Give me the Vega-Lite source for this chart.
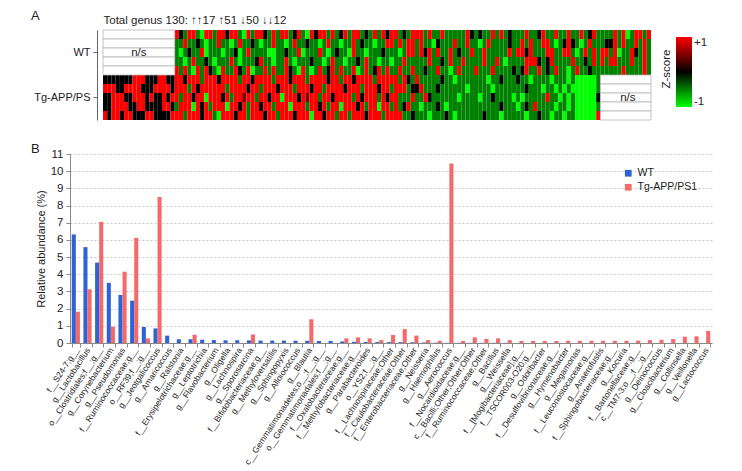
{
"$schema":"https://vega.github.io/schema/vega-lite/v6.json",
"padding":{"left":31,"top":10,"right":5,"bottom":0},
"bounds":"flush",
"spacing":34,
"config":{"view":{"stroke":null},"font":"Liberation Sans, Arial, sans-serif","axis":{"labelColor":"#222","titleColor":"#222"}},
"vconcat":[
{
"width":581,"height":90,
"title":{"text":"A","anchor":"start","frame":"group","fontSize":13,"fontWeight":"normal","dx":-39,"dy":9,"offset":0,"color":"#222"},
"encoding":{
"y":{"field":"r","type":"ordinal","sort":["W1","W2","W3","W4","W5","T1","T2","T3","T4","T5"],"scale":{"paddingInner":0,"paddingOuter":0},"axis":{"values":["W3","T3"],"labelExpr":"datum.value == 'W3' ? 'WT' : 'Tg-APP/PS'","title":null,"offset":-27,"tickSize":4,"labelPadding":3,"labelFontSize":11,"domainColor":"#666","tickColor":"#666","grid":false}},
"x":{"field":"c","type":"ordinal","scale":{"paddingInner":0,"paddingOuter":0,"range":[33,581]},"axis":{"orient":"top","labels":false,"ticks":false,"domain":false,"grid":false,"title":"Total genus 130: ↑↑17 ↑51 ↓50 ↓↓12","titleAnchor":"start","titleFontSize":11.5,"titleFontWeight":"normal","titlePadding":5}}
},
"layer":[
{"data":{"values":[
{"c":18,"r":"W1","z":2},{"c":19,"r":"W1","z":0},{"c":20,"r":"W1","z":-1},{"c":21,"r":"W1","z":2},{"c":22,"r":"W1","z":2},{"c":23,"r":"W1","z":-1},{"c":24,"r":"W1","z":-2},{"c":25,"r":"W1","z":2},{"c":26,"r":"W1","z":2},{"c":27,"r":"W1","z":-1},{"c":28,"r":"W1","z":2},{"c":29,"r":"W1","z":2},{"c":30,"r":"W1","z":0},{"c":31,"r":"W1","z":2},{"c":32,"r":"W1","z":2},{"c":33,"r":"W1","z":-1},{"c":34,"r":"W1","z":-2},{"c":35,"r":"W1","z":2},{"c":36,"r":"W1","z":-1},{"c":37,"r":"W1","z":2},{"c":38,"r":"W1","z":2},{"c":39,"r":"W1","z":0},{"c":40,"r":"W1","z":-1},{"c":41,"r":"W1","z":2},{"c":42,"r":"W1","z":-1},{"c":43,"r":"W1","z":2},{"c":44,"r":"W1","z":2},{"c":45,"r":"W1","z":-1},{"c":46,"r":"W1","z":0},{"c":47,"r":"W1","z":2},{"c":48,"r":"W1","z":-1},{"c":49,"r":"W1","z":-2},{"c":50,"r":"W1","z":2},{"c":51,"r":"W1","z":0},{"c":52,"r":"W1","z":2},{"c":53,"r":"W1","z":2},{"c":54,"r":"W1","z":-1},{"c":55,"r":"W1","z":2},{"c":56,"r":"W1","z":-1},{"c":57,"r":"W1","z":0},{"c":58,"r":"W1","z":2},{"c":59,"r":"W1","z":-1},{"c":60,"r":"W1","z":2},{"c":61,"r":"W1","z":2},{"c":62,"r":"W1","z":-1},{"c":63,"r":"W1","z":0},{"c":64,"r":"W1","z":-1},{"c":65,"r":"W1","z":2},{"c":66,"r":"W1","z":-1},{"c":67,"r":"W1","z":2},{"c":68,"r":"W1","z":0},
{"c":69,"r":"W1","z":2},{"c":70,"r":"W1","z":2},{"c":71,"r":"W1","z":-1},{"c":72,"r":"W1","z":0},{"c":73,"r":"W1","z":-1},{"c":74,"r":"W1","z":2},{"c":75,"r":"W1","z":2},{"c":76,"r":"W1","z":2},{"c":77,"r":"W1","z":-1},{"c":78,"r":"W1","z":2},{"c":79,"r":"W1","z":-1},{"c":80,"r":"W1","z":-1},{"c":81,"r":"W1","z":2},{"c":82,"r":"W1","z":-1},{"c":83,"r":"W1","z":-1},{"c":84,"r":"W1","z":-1},{"c":85,"r":"W1","z":-1},{"c":86,"r":"W1","z":-1},{"c":87,"r":"W1","z":2},{"c":88,"r":"W1","z":0},{"c":89,"r":"W1","z":-1},{"c":90,"r":"W1","z":0},{"c":91,"r":"W1","z":-1},{"c":92,"r":"W1","z":-1},{"c":93,"r":"W1","z":2},{"c":94,"r":"W1","z":-1},{"c":95,"r":"W1","z":2},{"c":96,"r":"W1","z":-1},{"c":97,"r":"W1","z":0},{"c":98,"r":"W1","z":-1},{"c":99,"r":"W1","z":-1},{"c":100,"r":"W1","z":-1},{"c":101,"r":"W1","z":2},{"c":102,"r":"W1","z":-1},{"c":103,"r":"W1","z":-1},{"c":104,"r":"W1","z":0},{"c":105,"r":"W1","z":2},{"c":106,"r":"W1","z":-1},{"c":107,"r":"W1","z":-1},{"c":108,"r":"W1","z":2},{"c":109,"r":"W1","z":-1},{"c":110,"r":"W1","z":-1},{"c":111,"r":"W1","z":2},{"c":112,"r":"W1","z":-1},{"c":113,"r":"W1","z":-1},{"c":114,"r":"W1","z":2},{"c":115,"r":"W1","z":-1},{"c":116,"r":"W1","z":0},{"c":117,"r":"W1","z":2},{"c":118,"r":"W1","z":-1},
{"c":119,"r":"W1","z":-1},{"c":120,"r":"W1","z":-1},{"c":121,"r":"W1","z":-1},{"c":122,"r":"W1","z":2},{"c":123,"r":"W1","z":-1},{"c":124,"r":"W1","z":2},{"c":125,"r":"W1","z":-2},{"c":126,"r":"W1","z":-1},{"c":127,"r":"W1","z":2},{"c":128,"r":"W1","z":2},{"c":129,"r":"W1","z":-1},{"c":130,"r":"W1","z":2},
{"c":18,"r":"W2","z":-1},{"c":19,"r":"W2","z":-1},{"c":20,"r":"W2","z":2},{"c":21,"r":"W2","z":-1},{"c":22,"r":"W2","z":-1},{"c":23,"r":"W2","z":0},{"c":24,"r":"W2","z":-1},{"c":25,"r":"W2","z":-2},{"c":26,"r":"W2","z":-1},{"c":27,"r":"W2","z":-1},{"c":28,"r":"W2","z":2},{"c":29,"r":"W2","z":-1},{"c":30,"r":"W2","z":-1},{"c":31,"r":"W2","z":-2},{"c":32,"r":"W2","z":-1},{"c":33,"r":"W2","z":2},{"c":34,"r":"W2","z":-1},{"c":35,"r":"W2","z":-1},{"c":36,"r":"W2","z":0},{"c":37,"r":"W2","z":-1},{"c":38,"r":"W2","z":-2},{"c":39,"r":"W2","z":-1},{"c":40,"r":"W2","z":-1},{"c":41,"r":"W2","z":2},{"c":42,"r":"W2","z":-1},{"c":43,"r":"W2","z":-1},{"c":44,"r":"W2","z":-2},{"c":45,"r":"W2","z":-1},{"c":46,"r":"W2","z":2},{"c":47,"r":"W2","z":-1},{"c":48,"r":"W2","z":-1},{"c":49,"r":"W2","z":0},{"c":50,"r":"W2","z":-1},{"c":51,"r":"W2","z":-1},{"c":52,"r":"W2","z":-2},{"c":53,"r":"W2","z":-1},{"c":54,"r":"W2","z":2},{"c":55,"r":"W2","z":-1},{"c":56,"r":"W2","z":-1},{"c":57,"r":"W2","z":-2},{"c":58,"r":"W2","z":-1},{"c":59,"r":"W2","z":-1},{"c":60,"r":"W2","z":2},{"c":61,"r":"W2","z":-1},{"c":62,"r":"W2","z":0},{"c":63,"r":"W2","z":-1},{"c":64,"r":"W2","z":-1},{"c":65,"r":"W2","z":-2},{"c":66,"r":"W2","z":-1},{"c":67,"r":"W2","z":-1},{"c":68,"r":"W2","z":2},
{"c":69,"r":"W2","z":2},{"c":70,"r":"W2","z":-1},{"c":71,"r":"W2","z":2},{"c":72,"r":"W2","z":-1},{"c":73,"r":"W2","z":2},{"c":74,"r":"W2","z":2},{"c":75,"r":"W2","z":-1},{"c":76,"r":"W2","z":2},{"c":77,"r":"W2","z":-1},{"c":78,"r":"W2","z":-1},{"c":79,"r":"W2","z":-2},{"c":80,"r":"W2","z":0},{"c":81,"r":"W2","z":-1},{"c":82,"r":"W2","z":-1},{"c":83,"r":"W2","z":-1},{"c":84,"r":"W2","z":2},{"c":85,"r":"W2","z":-1},{"c":86,"r":"W2","z":-1},{"c":87,"r":"W2","z":2},{"c":88,"r":"W2","z":-1},{"c":89,"r":"W2","z":-1},{"c":90,"r":"W2","z":-2},{"c":91,"r":"W2","z":-1},{"c":92,"r":"W2","z":2},{"c":93,"r":"W2","z":-1},{"c":94,"r":"W2","z":-1},{"c":95,"r":"W2","z":-1},{"c":96,"r":"W2","z":-1},{"c":97,"r":"W2","z":0},{"c":98,"r":"W2","z":-1},{"c":99,"r":"W2","z":-1},{"c":100,"r":"W2","z":2},{"c":101,"r":"W2","z":-1},{"c":102,"r":"W2","z":2},{"c":103,"r":"W2","z":-1},{"c":104,"r":"W2","z":-1},{"c":105,"r":"W2","z":2},{"c":106,"r":"W2","z":2},{"c":107,"r":"W2","z":-1},{"c":108,"r":"W2","z":-2},{"c":109,"r":"W2","z":-1},{"c":110,"r":"W2","z":0},{"c":111,"r":"W2","z":2},{"c":112,"r":"W2","z":0},{"c":113,"r":"W2","z":-1},{"c":114,"r":"W2","z":-2},{"c":115,"r":"W2","z":-1},{"c":116,"r":"W2","z":2},{"c":117,"r":"W2","z":-1},{"c":118,"r":"W2","z":-1},
{"c":119,"r":"W2","z":-1},{"c":120,"r":"W2","z":0},{"c":121,"r":"W2","z":0},{"c":122,"r":"W2","z":2},{"c":123,"r":"W2","z":-1},{"c":124,"r":"W2","z":2},{"c":125,"r":"W2","z":-1},{"c":126,"r":"W2","z":-1},{"c":127,"r":"W2","z":2},{"c":128,"r":"W2","z":-1},{"c":129,"r":"W2","z":2},{"c":130,"r":"W2","z":-1},
{"c":18,"r":"W3","z":-1},{"c":19,"r":"W3","z":-2},{"c":20,"r":"W3","z":-1},{"c":21,"r":"W3","z":0},{"c":22,"r":"W3","z":-1},{"c":23,"r":"W3","z":-1},{"c":24,"r":"W3","z":2},{"c":25,"r":"W3","z":-2},{"c":26,"r":"W3","z":-1},{"c":27,"r":"W3","z":-1},{"c":28,"r":"W3","z":-1},{"c":29,"r":"W3","z":-2},{"c":30,"r":"W3","z":-1},{"c":31,"r":"W3","z":-1},{"c":32,"r":"W3","z":0},{"c":33,"r":"W3","z":-2},{"c":34,"r":"W3","z":-1},{"c":35,"r":"W3","z":2},{"c":36,"r":"W3","z":-1},{"c":37,"r":"W3","z":-1},{"c":38,"r":"W3","z":-1},{"c":39,"r":"W3","z":-1},{"c":40,"r":"W3","z":-2},{"c":41,"r":"W3","z":-2},{"c":42,"r":"W3","z":-1},{"c":43,"r":"W3","z":-1},{"c":44,"r":"W3","z":0},{"c":45,"r":"W3","z":-1},{"c":46,"r":"W3","z":-1},{"c":47,"r":"W3","z":2},{"c":48,"r":"W3","z":-2},{"c":49,"r":"W3","z":-1},{"c":50,"r":"W3","z":-1},{"c":51,"r":"W3","z":-1},{"c":52,"r":"W3","z":2},{"c":53,"r":"W3","z":-1},{"c":54,"r":"W3","z":-2},{"c":55,"r":"W3","z":-1},{"c":56,"r":"W3","z":0},{"c":57,"r":"W3","z":-1},{"c":58,"r":"W3","z":-1},{"c":59,"r":"W3","z":-2},{"c":60,"r":"W3","z":2},{"c":61,"r":"W3","z":-1},{"c":62,"r":"W3","z":-1},{"c":63,"r":"W3","z":-2},{"c":64,"r":"W3","z":-1},{"c":65,"r":"W3","z":-1},{"c":66,"r":"W3","z":-1},{"c":67,"r":"W3","z":0},{"c":68,"r":"W3","z":-1},
{"c":69,"r":"W3","z":-1},{"c":70,"r":"W3","z":-1},{"c":71,"r":"W3","z":-2},{"c":72,"r":"W3","z":-1},{"c":73,"r":"W3","z":2},{"c":74,"r":"W3","z":2},{"c":75,"r":"W3","z":-1},{"c":76,"r":"W3","z":2},{"c":77,"r":"W3","z":0},{"c":78,"r":"W3","z":2},{"c":79,"r":"W3","z":-1},{"c":80,"r":"W3","z":2},{"c":81,"r":"W3","z":-1},{"c":82,"r":"W3","z":-1},{"c":83,"r":"W3","z":2},{"c":84,"r":"W3","z":-1},{"c":85,"r":"W3","z":0},{"c":86,"r":"W3","z":-1},{"c":87,"r":"W3","z":-1},{"c":88,"r":"W3","z":2},{"c":89,"r":"W3","z":-1},{"c":90,"r":"W3","z":-1},{"c":91,"r":"W3","z":2},{"c":92,"r":"W3","z":-1},{"c":93,"r":"W3","z":-1},{"c":94,"r":"W3","z":-1},{"c":95,"r":"W3","z":-1},{"c":96,"r":"W3","z":-1},{"c":97,"r":"W3","z":2},{"c":98,"r":"W3","z":-1},{"c":99,"r":"W3","z":2},{"c":100,"r":"W3","z":2},{"c":101,"r":"W3","z":0},{"c":102,"r":"W3","z":2},{"c":103,"r":"W3","z":-1},{"c":104,"r":"W3","z":-1},{"c":105,"r":"W3","z":-1},{"c":106,"r":"W3","z":2},{"c":107,"r":"W3","z":2},{"c":108,"r":"W3","z":-1},{"c":109,"r":"W3","z":-1},{"c":110,"r":"W3","z":2},{"c":111,"r":"W3","z":2},{"c":112,"r":"W3","z":-1},{"c":113,"r":"W3","z":-2},{"c":114,"r":"W3","z":-1},{"c":115,"r":"W3","z":2},{"c":116,"r":"W3","z":-1},{"c":117,"r":"W3","z":2},{"c":118,"r":"W3","z":-1},
{"c":119,"r":"W3","z":2},{"c":120,"r":"W3","z":2},{"c":121,"r":"W3","z":-1},{"c":122,"r":"W3","z":2},{"c":123,"r":"W3","z":-2},{"c":124,"r":"W3","z":-1},{"c":125,"r":"W3","z":-1},{"c":126,"r":"W3","z":2},{"c":127,"r":"W3","z":0},{"c":128,"r":"W3","z":-1},{"c":129,"r":"W3","z":2},{"c":130,"r":"W3","z":-1},
{"c":18,"r":"W4","z":-1},{"c":19,"r":"W4","z":-1},{"c":20,"r":"W4","z":-2},{"c":21,"r":"W4","z":-1},{"c":22,"r":"W4","z":2},{"c":23,"r":"W4","z":-1},{"c":24,"r":"W4","z":-1},{"c":25,"r":"W4","z":0},{"c":26,"r":"W4","z":-1},{"c":27,"r":"W4","z":-2},{"c":28,"r":"W4","z":-1},{"c":29,"r":"W4","z":-1},{"c":30,"r":"W4","z":-1},{"c":31,"r":"W4","z":2},{"c":32,"r":"W4","z":-1},{"c":33,"r":"W4","z":-2},{"c":34,"r":"W4","z":-1},{"c":35,"r":"W4","z":-1},{"c":36,"r":"W4","z":-1},{"c":37,"r":"W4","z":0},{"c":38,"r":"W4","z":2},{"c":39,"r":"W4","z":-1},{"c":40,"r":"W4","z":-1},{"c":41,"r":"W4","z":-2},{"c":42,"r":"W4","z":-1},{"c":43,"r":"W4","z":-1},{"c":44,"r":"W4","z":2},{"c":45,"r":"W4","z":-1},{"c":46,"r":"W4","z":-2},{"c":47,"r":"W4","z":-1},{"c":48,"r":"W4","z":-1},{"c":49,"r":"W4","z":-1},{"c":50,"r":"W4","z":0},{"c":51,"r":"W4","z":-1},{"c":52,"r":"W4","z":-1},{"c":53,"r":"W4","z":-2},{"c":54,"r":"W4","z":-1},{"c":55,"r":"W4","z":2},{"c":56,"r":"W4","z":-1},{"c":57,"r":"W4","z":-1},{"c":58,"r":"W4","z":-2},{"c":59,"r":"W4","z":-1},{"c":60,"r":"W4","z":-1},{"c":61,"r":"W4","z":0},{"c":62,"r":"W4","z":-1},{"c":63,"r":"W4","z":2},{"c":64,"r":"W4","z":-1},{"c":65,"r":"W4","z":-1},{"c":66,"r":"W4","z":-2},{"c":67,"r":"W4","z":-1},{"c":68,"r":"W4","z":-1},
{"c":69,"r":"W4","z":-2},{"c":70,"r":"W4","z":-1},{"c":71,"r":"W4","z":-1},{"c":72,"r":"W4","z":2},{"c":73,"r":"W4","z":-1},{"c":74,"r":"W4","z":-1},{"c":75,"r":"W4","z":-1},{"c":76,"r":"W4","z":-1},{"c":77,"r":"W4","z":-1},{"c":78,"r":"W4","z":2},{"c":79,"r":"W4","z":-1},{"c":80,"r":"W4","z":-1},{"c":81,"r":"W4","z":0},{"c":82,"r":"W4","z":-1},{"c":83,"r":"W4","z":2},{"c":84,"r":"W4","z":-1},{"c":85,"r":"W4","z":-1},{"c":86,"r":"W4","z":2},{"c":87,"r":"W4","z":-1},{"c":88,"r":"W4","z":-1},{"c":89,"r":"W4","z":-1},{"c":90,"r":"W4","z":-1},{"c":91,"r":"W4","z":2},{"c":92,"r":"W4","z":-1},{"c":93,"r":"W4","z":-1},{"c":94,"r":"W4","z":2},{"c":95,"r":"W4","z":-1},{"c":96,"r":"W4","z":-2},{"c":97,"r":"W4","z":-1},{"c":98,"r":"W4","z":-1},{"c":99,"r":"W4","z":-1},{"c":100,"r":"W4","z":-1},{"c":101,"r":"W4","z":2},{"c":102,"r":"W4","z":2},{"c":103,"r":"W4","z":2},{"c":104,"r":"W4","z":0},{"c":105,"r":"W4","z":-1},{"c":106,"r":"W4","z":0},{"c":107,"r":"W4","z":2},{"c":108,"r":"W4","z":-1},{"c":109,"r":"W4","z":-1},{"c":110,"r":"W4","z":-1},{"c":111,"r":"W4","z":-1},{"c":112,"r":"W4","z":2},{"c":113,"r":"W4","z":-1},{"c":114,"r":"W4","z":-1},{"c":115,"r":"W4","z":0},{"c":116,"r":"W4","z":-1},{"c":117,"r":"W4","z":2},{"c":118,"r":"W4","z":-1},
{"c":119,"r":"W4","z":2},{"c":120,"r":"W4","z":-1},{"c":121,"r":"W4","z":2},{"c":122,"r":"W4","z":2},{"c":123,"r":"W4","z":-1},{"c":124,"r":"W4","z":-1},{"c":125,"r":"W4","z":-1},{"c":126,"r":"W4","z":2},{"c":127,"r":"W4","z":-1},{"c":128,"r":"W4","z":-1},{"c":129,"r":"W4","z":2},{"c":130,"r":"W4","z":-1},
{"c":18,"r":"W5","z":2},{"c":19,"r":"W5","z":-1},{"c":20,"r":"W5","z":2},{"c":21,"r":"W5","z":-1},{"c":22,"r":"W5","z":-2},{"c":23,"r":"W5","z":2},{"c":24,"r":"W5","z":-1},{"c":25,"r":"W5","z":2},{"c":26,"r":"W5","z":0},{"c":27,"r":"W5","z":-1},{"c":28,"r":"W5","z":-2},{"c":29,"r":"W5","z":2},{"c":30,"r":"W5","z":-1},{"c":31,"r":"W5","z":-1},{"c":32,"r":"W5","z":2},{"c":33,"r":"W5","z":0},{"c":34,"r":"W5","z":-1},{"c":35,"r":"W5","z":2},{"c":36,"r":"W5","z":-2},{"c":37,"r":"W5","z":-1},{"c":38,"r":"W5","z":-1},{"c":39,"r":"W5","z":2},{"c":40,"r":"W5","z":-1},{"c":41,"r":"W5","z":2},{"c":42,"r":"W5","z":-1},{"c":43,"r":"W5","z":-1},{"c":44,"r":"W5","z":2},{"c":45,"r":"W5","z":0},{"c":46,"r":"W5","z":-1},{"c":47,"r":"W5","z":-2},{"c":48,"r":"W5","z":2},{"c":49,"r":"W5","z":-1},{"c":50,"r":"W5","z":-2},{"c":51,"r":"W5","z":-1},{"c":52,"r":"W5","z":2},{"c":53,"r":"W5","z":-1},{"c":54,"r":"W5","z":0},{"c":55,"r":"W5","z":2},{"c":56,"r":"W5","z":-1},{"c":57,"r":"W5","z":2},{"c":58,"r":"W5","z":-1},{"c":59,"r":"W5","z":-1},{"c":60,"r":"W5","z":2},{"c":61,"r":"W5","z":-2},{"c":62,"r":"W5","z":-1},{"c":63,"r":"W5","z":2},{"c":64,"r":"W5","z":-1},{"c":65,"r":"W5","z":0},{"c":66,"r":"W5","z":2},{"c":67,"r":"W5","z":-1},{"c":68,"r":"W5","z":2},
{"c":69,"r":"W5","z":-1},{"c":70,"r":"W5","z":-1},{"c":71,"r":"W5","z":2},{"c":72,"r":"W5","z":-1},{"c":73,"r":"W5","z":-1},{"c":74,"r":"W5","z":2},{"c":75,"r":"W5","z":-1},{"c":76,"r":"W5","z":-1},{"c":77,"r":"W5","z":0},{"c":78,"r":"W5","z":-1},{"c":79,"r":"W5","z":-1},{"c":80,"r":"W5","z":2},{"c":81,"r":"W5","z":-1},{"c":82,"r":"W5","z":-1},{"c":83,"r":"W5","z":-2},{"c":84,"r":"W5","z":-1},{"c":85,"r":"W5","z":2},{"c":86,"r":"W5","z":-1},{"c":87,"r":"W5","z":-1},{"c":88,"r":"W5","z":-1},{"c":89,"r":"W5","z":2},{"c":90,"r":"W5","z":-1},{"c":91,"r":"W5","z":-1},{"c":92,"r":"W5","z":-1},{"c":93,"r":"W5","z":2},{"c":94,"r":"W5","z":-1},{"c":95,"r":"W5","z":-1},{"c":96,"r":"W5","z":-1},{"c":97,"r":"W5","z":-1},{"c":98,"r":"W5","z":0},{"c":99,"r":"W5","z":-1},{"c":100,"r":"W5","z":0},{"c":101,"r":"W5","z":2},{"c":102,"r":"W5","z":-1},{"c":103,"r":"W5","z":-1},{"c":104,"r":"W5","z":2},{"c":105,"r":"W5","z":-1},{"c":106,"r":"W5","z":0},{"c":107,"r":"W5","z":-1},{"c":108,"r":"W5","z":2},{"c":109,"r":"W5","z":-1},{"c":110,"r":"W5","z":-1},{"c":111,"r":"W5","z":-2},{"c":112,"r":"W5","z":-1},{"c":113,"r":"W5","z":2},{"c":114,"r":"W5","z":-1},{"c":115,"r":"W5","z":-1},{"c":116,"r":"W5","z":0},{"c":117,"r":"W5","z":-1},{"c":118,"r":"W5","z":-1},
{"c":119,"r":"W5","z":-1},{"c":120,"r":"W5","z":-1},{"c":121,"r":"W5","z":-1},{"c":122,"r":"W5","z":-1},{"c":123,"r":"W5","z":-1},{"c":124,"r":"W5","z":2},{"c":125,"r":"W5","z":-1},{"c":126,"r":"W5","z":-1},{"c":127,"r":"W5","z":-1},{"c":128,"r":"W5","z":-1},{"c":129,"r":"W5","z":2},{"c":130,"r":"W5","z":-1},
{"c":1,"r":"T1","z":0},{"c":2,"r":"T1","z":0},{"c":3,"r":"T1","z":0},{"c":4,"r":"T1","z":0},{"c":5,"r":"T1","z":0},{"c":6,"r":"T1","z":0},{"c":7,"r":"T1","z":0},{"c":8,"r":"T1","z":2},{"c":9,"r":"T1","z":2},{"c":10,"r":"T1","z":2},{"c":11,"r":"T1","z":0},{"c":12,"r":"T1","z":0},{"c":13,"r":"T1","z":0},{"c":14,"r":"T1","z":2},{"c":15,"r":"T1","z":2},{"c":16,"r":"T1","z":0},{"c":17,"r":"T1","z":0},
{"c":18,"r":"T1","z":2},{"c":19,"r":"T1","z":2},{"c":20,"r":"T1","z":0},{"c":21,"r":"T1","z":2},{"c":22,"r":"T1","z":2},{"c":23,"r":"T1","z":2},{"c":24,"r":"T1","z":-1},{"c":25,"r":"T1","z":2},{"c":26,"r":"T1","z":2},{"c":27,"r":"T1","z":2},{"c":28,"r":"T1","z":0},{"c":29,"r":"T1","z":2},{"c":30,"r":"T1","z":2},{"c":31,"r":"T1","z":2},{"c":32,"r":"T1","z":2},{"c":33,"r":"T1","z":-1},{"c":34,"r":"T1","z":2},{"c":35,"r":"T1","z":2},{"c":36,"r":"T1","z":0},{"c":37,"r":"T1","z":2},{"c":38,"r":"T1","z":2},{"c":39,"r":"T1","z":2},{"c":40,"r":"T1","z":2},{"c":41,"r":"T1","z":-1},{"c":42,"r":"T1","z":2},{"c":43,"r":"T1","z":2},{"c":44,"r":"T1","z":2},{"c":45,"r":"T1","z":0},{"c":46,"r":"T1","z":2},{"c":47,"r":"T1","z":2},{"c":48,"r":"T1","z":2},{"c":49,"r":"T1","z":-1},{"c":50,"r":"T1","z":2},{"c":51,"r":"T1","z":2},{"c":52,"r":"T1","z":2},{"c":53,"r":"T1","z":2},{"c":54,"r":"T1","z":0},{"c":55,"r":"T1","z":2},{"c":56,"r":"T1","z":2},{"c":57,"r":"T1","z":-1},{"c":58,"r":"T1","z":2},{"c":59,"r":"T1","z":2},{"c":60,"r":"T1","z":0},{"c":61,"r":"T1","z":2},{"c":62,"r":"T1","z":2},{"c":63,"r":"T1","z":2},{"c":64,"r":"T1","z":2},{"c":65,"r":"T1","z":-1},{"c":66,"r":"T1","z":2},{"c":67,"r":"T1","z":2},{"c":68,"r":"T1","z":2},
{"c":69,"r":"T1","z":2},{"c":70,"r":"T1","z":2},{"c":71,"r":"T1","z":-1},{"c":72,"r":"T1","z":2},{"c":73,"r":"T1","z":0},{"c":74,"r":"T1","z":-1},{"c":75,"r":"T1","z":2},{"c":76,"r":"T1","z":-1},{"c":77,"r":"T1","z":-1},{"c":78,"r":"T1","z":-1},{"c":79,"r":"T1","z":-1},{"c":80,"r":"T1","z":-1},{"c":81,"r":"T1","z":0},{"c":82,"r":"T1","z":-1},{"c":83,"r":"T1","z":-1},{"c":84,"r":"T1","z":-2},{"c":85,"r":"T1","z":-1},{"c":86,"r":"T1","z":-1},{"c":87,"r":"T1","z":-1},{"c":88,"r":"T1","z":-1},{"c":89,"r":"T1","z":-1},{"c":90,"r":"T1","z":-1},{"c":91,"r":"T1","z":-1},{"c":92,"r":"T1","z":-2},{"c":93,"r":"T1","z":-1},{"c":94,"r":"T1","z":-1},{"c":95,"r":"T1","z":0},{"c":96,"r":"T1","z":-1},{"c":97,"r":"T1","z":-1},{"c":98,"r":"T1","z":-1},{"c":99,"r":"T1","z":0},{"c":100,"r":"T1","z":-1},{"c":101,"r":"T1","z":-1},{"c":102,"r":"T1","z":-2},{"c":103,"r":"T1","z":-1},{"c":104,"r":"T1","z":-1},{"c":105,"r":"T1","z":-1},{"c":106,"r":"T1","z":-1},{"c":107,"r":"T1","z":-2},{"c":108,"r":"T1","z":-1},{"c":109,"r":"T1","z":-1},{"c":110,"r":"T1","z":-1},{"c":111,"r":"T1","z":-2},{"c":112,"r":"T1","z":-1},{"c":113,"r":"T1","z":-2},{"c":114,"r":"T1","z":-2},{"c":115,"r":"T1","z":-2},{"c":116,"r":"T1","z":-2},{"c":117,"r":"T1","z":-2},{"c":118,"r":"T1","z":-1},
{"c":1,"r":"T2","z":2},{"c":2,"r":"T2","z":2},{"c":3,"r":"T2","z":2},{"c":4,"r":"T2","z":0},{"c":5,"r":"T2","z":0},{"c":6,"r":"T2","z":2},{"c":7,"r":"T2","z":2},{"c":8,"r":"T2","z":2},{"c":9,"r":"T2","z":2},{"c":10,"r":"T2","z":0},{"c":11,"r":"T2","z":0},{"c":12,"r":"T2","z":0},{"c":13,"r":"T2","z":2},{"c":14,"r":"T2","z":2},{"c":15,"r":"T2","z":2},{"c":16,"r":"T2","z":2},{"c":17,"r":"T2","z":0},
{"c":18,"r":"T2","z":2},{"c":19,"r":"T2","z":2},{"c":20,"r":"T2","z":2},{"c":21,"r":"T2","z":-1},{"c":22,"r":"T2","z":2},{"c":23,"r":"T2","z":0},{"c":24,"r":"T2","z":2},{"c":25,"r":"T2","z":2},{"c":26,"r":"T2","z":2},{"c":27,"r":"T2","z":2},{"c":28,"r":"T2","z":2},{"c":29,"r":"T2","z":2},{"c":30,"r":"T2","z":-1},{"c":31,"r":"T2","z":2},{"c":32,"r":"T2","z":2},{"c":33,"r":"T2","z":2},{"c":34,"r":"T2","z":2},{"c":35,"r":"T2","z":0},{"c":36,"r":"T2","z":2},{"c":37,"r":"T2","z":2},{"c":38,"r":"T2","z":-1},{"c":39,"r":"T2","z":2},{"c":40,"r":"T2","z":2},{"c":41,"r":"T2","z":2},{"c":42,"r":"T2","z":0},{"c":43,"r":"T2","z":2},{"c":44,"r":"T2","z":2},{"c":45,"r":"T2","z":2},{"c":46,"r":"T2","z":-1},{"c":47,"r":"T2","z":2},{"c":48,"r":"T2","z":2},{"c":49,"r":"T2","z":2},{"c":50,"r":"T2","z":0},{"c":51,"r":"T2","z":2},{"c":52,"r":"T2","z":2},{"c":53,"r":"T2","z":-1},{"c":54,"r":"T2","z":2},{"c":55,"r":"T2","z":2},{"c":56,"r":"T2","z":2},{"c":57,"r":"T2","z":2},{"c":58,"r":"T2","z":0},{"c":59,"r":"T2","z":2},{"c":60,"r":"T2","z":2},{"c":61,"r":"T2","z":2},{"c":62,"r":"T2","z":-1},{"c":63,"r":"T2","z":2},{"c":64,"r":"T2","z":2},{"c":65,"r":"T2","z":2},{"c":66,"r":"T2","z":0},{"c":67,"r":"T2","z":2},{"c":68,"r":"T2","z":2},
{"c":69,"r":"T2","z":-1},{"c":70,"r":"T2","z":2},{"c":71,"r":"T2","z":2},{"c":72,"r":"T2","z":2},{"c":73,"r":"T2","z":-1},{"c":74,"r":"T2","z":0},{"c":75,"r":"T2","z":0},{"c":76,"r":"T2","z":2},{"c":77,"r":"T2","z":-1},{"c":78,"r":"T2","z":-1},{"c":79,"r":"T2","z":-1},{"c":80,"r":"T2","z":0},{"c":81,"r":"T2","z":-1},{"c":82,"r":"T2","z":-1},{"c":83,"r":"T2","z":-1},{"c":84,"r":"T2","z":-1},{"c":85,"r":"T2","z":-1},{"c":86,"r":"T2","z":-1},{"c":87,"r":"T2","z":-2},{"c":88,"r":"T2","z":-1},{"c":89,"r":"T2","z":-1},{"c":90,"r":"T2","z":-1},{"c":91,"r":"T2","z":-1},{"c":92,"r":"T2","z":-1},{"c":93,"r":"T2","z":-2},{"c":94,"r":"T2","z":-1},{"c":95,"r":"T2","z":-1},{"c":96,"r":"T2","z":-1},{"c":97,"r":"T2","z":-1},{"c":98,"r":"T2","z":-1},{"c":99,"r":"T2","z":-1},{"c":100,"r":"T2","z":-1},{"c":101,"r":"T2","z":0},{"c":102,"r":"T2","z":-1},{"c":103,"r":"T2","z":-1},{"c":104,"r":"T2","z":-1},{"c":105,"r":"T2","z":-2},{"c":106,"r":"T2","z":-1},{"c":107,"r":"T2","z":-1},{"c":108,"r":"T2","z":-2},{"c":109,"r":"T2","z":-1},{"c":110,"r":"T2","z":-2},{"c":111,"r":"T2","z":-1},{"c":112,"r":"T2","z":-2},{"c":113,"r":"T2","z":-2},{"c":114,"r":"T2","z":-2},{"c":115,"r":"T2","z":-2},{"c":116,"r":"T2","z":-2},{"c":117,"r":"T2","z":-2},{"c":118,"r":"T2","z":-1},
{"c":1,"r":"T3","z":0},{"c":2,"r":"T3","z":0},{"c":3,"r":"T3","z":2},{"c":4,"r":"T3","z":2},{"c":5,"r":"T3","z":2},{"c":6,"r":"T3","z":0},{"c":7,"r":"T3","z":0},{"c":8,"r":"T3","z":2},{"c":9,"r":"T3","z":2},{"c":10,"r":"T3","z":2},{"c":11,"r":"T3","z":0},{"c":12,"r":"T3","z":2},{"c":13,"r":"T3","z":0},{"c":14,"r":"T3","z":0},{"c":15,"r":"T3","z":2},{"c":16,"r":"T3","z":0},{"c":17,"r":"T3","z":2},
{"c":18,"r":"T3","z":2},{"c":19,"r":"T3","z":-1},{"c":20,"r":"T3","z":2},{"c":21,"r":"T3","z":2},{"c":22,"r":"T3","z":0},{"c":23,"r":"T3","z":2},{"c":24,"r":"T3","z":2},{"c":25,"r":"T3","z":-2},{"c":26,"r":"T3","z":2},{"c":27,"r":"T3","z":2},{"c":28,"r":"T3","z":2},{"c":29,"r":"T3","z":0},{"c":30,"r":"T3","z":2},{"c":31,"r":"T3","z":-1},{"c":32,"r":"T3","z":2},{"c":33,"r":"T3","z":2},{"c":34,"r":"T3","z":1},{"c":35,"r":"T3","z":2},{"c":36,"r":"T3","z":2},{"c":37,"r":"T3","z":-1},{"c":38,"r":"T3","z":2},{"c":39,"r":"T3","z":2},{"c":40,"r":"T3","z":0},{"c":41,"r":"T3","z":2},{"c":42,"r":"T3","z":2},{"c":43,"r":"T3","z":-2},{"c":44,"r":"T3","z":2},{"c":45,"r":"T3","z":2},{"c":46,"r":"T3","z":2},{"c":47,"r":"T3","z":0},{"c":48,"r":"T3","z":2},{"c":49,"r":"T3","z":1},{"c":50,"r":"T3","z":2},{"c":51,"r":"T3","z":2},{"c":52,"r":"T3","z":-1},{"c":53,"r":"T3","z":2},{"c":54,"r":"T3","z":2},{"c":55,"r":"T3","z":0},{"c":56,"r":"T3","z":2},{"c":57,"r":"T3","z":2},{"c":58,"r":"T3","z":2},{"c":59,"r":"T3","z":2},{"c":60,"r":"T3","z":-1},{"c":61,"r":"T3","z":2},{"c":62,"r":"T3","z":0},{"c":63,"r":"T3","z":2},{"c":64,"r":"T3","z":2},{"c":65,"r":"T3","z":2},{"c":66,"r":"T3","z":-1},{"c":67,"r":"T3","z":2},{"c":68,"r":"T3","z":0},
{"c":69,"r":"T3","z":2},{"c":70,"r":"T3","z":2},{"c":71,"r":"T3","z":-1},{"c":72,"r":"T3","z":-1},{"c":73,"r":"T3","z":-1},{"c":74,"r":"T3","z":2},{"c":75,"r":"T3","z":-1},{"c":76,"r":"T3","z":-1},{"c":77,"r":"T3","z":2},{"c":78,"r":"T3","z":0},{"c":79,"r":"T3","z":-1},{"c":80,"r":"T3","z":-1},{"c":81,"r":"T3","z":-1},{"c":82,"r":"T3","z":-1},{"c":83,"r":"T3","z":-1},{"c":84,"r":"T3","z":-1},{"c":85,"r":"T3","z":-2},{"c":86,"r":"T3","z":-1},{"c":87,"r":"T3","z":-1},{"c":88,"r":"T3","z":-1},{"c":89,"r":"T3","z":-1},{"c":90,"r":"T3","z":-2},{"c":91,"r":"T3","z":-1},{"c":92,"r":"T3","z":-1},{"c":93,"r":"T3","z":0},{"c":94,"r":"T3","z":-1},{"c":95,"r":"T3","z":-1},{"c":96,"r":"T3","z":-1},{"c":97,"r":"T3","z":-1},{"c":98,"r":"T3","z":-2},{"c":99,"r":"T3","z":-1},{"c":100,"r":"T3","z":-2},{"c":101,"r":"T3","z":-1},{"c":102,"r":"T3","z":-1},{"c":103,"r":"T3","z":-1},{"c":104,"r":"T3","z":-1},{"c":105,"r":"T3","z":-1},{"c":106,"r":"T3","z":2},{"c":107,"r":"T3","z":-1},{"c":108,"r":"T3","z":-1},{"c":109,"r":"T3","z":-2},{"c":110,"r":"T3","z":-1},{"c":111,"r":"T3","z":-2},{"c":112,"r":"T3","z":-1},{"c":113,"r":"T3","z":-2},{"c":114,"r":"T3","z":-2},{"c":115,"r":"T3","z":-2},{"c":116,"r":"T3","z":-2},{"c":117,"r":"T3","z":-2},{"c":118,"r":"T3","z":0},
{"c":1,"r":"T4","z":0},{"c":2,"r":"T4","z":0},{"c":3,"r":"T4","z":2},{"c":4,"r":"T4","z":2},{"c":5,"r":"T4","z":2},{"c":6,"r":"T4","z":2},{"c":7,"r":"T4","z":0},{"c":8,"r":"T4","z":0},{"c":9,"r":"T4","z":2},{"c":10,"r":"T4","z":2},{"c":11,"r":"T4","z":0},{"c":12,"r":"T4","z":0},{"c":13,"r":"T4","z":0},{"c":14,"r":"T4","z":0},{"c":15,"r":"T4","z":2},{"c":16,"r":"T4","z":2},{"c":17,"r":"T4","z":0},
{"c":18,"r":"T4","z":-1},{"c":19,"r":"T4","z":2},{"c":20,"r":"T4","z":2},{"c":21,"r":"T4","z":2},{"c":22,"r":"T4","z":-2},{"c":23,"r":"T4","z":2},{"c":24,"r":"T4","z":0},{"c":25,"r":"T4","z":2},{"c":26,"r":"T4","z":-1},{"c":27,"r":"T4","z":2},{"c":28,"r":"T4","z":2},{"c":29,"r":"T4","z":2},{"c":30,"r":"T4","z":-2},{"c":31,"r":"T4","z":2},{"c":32,"r":"T4","z":2},{"c":33,"r":"T4","z":0},{"c":34,"r":"T4","z":2},{"c":35,"r":"T4","z":-1},{"c":36,"r":"T4","z":2},{"c":37,"r":"T4","z":2},{"c":38,"r":"T4","z":0},{"c":39,"r":"T4","z":2},{"c":40,"r":"T4","z":2},{"c":41,"r":"T4","z":-1},{"c":42,"r":"T4","z":2},{"c":43,"r":"T4","z":2},{"c":44,"r":"T4","z":2},{"c":45,"r":"T4","z":-2},{"c":46,"r":"T4","z":2},{"c":47,"r":"T4","z":2},{"c":48,"r":"T4","z":2},{"c":49,"r":"T4","z":-1},{"c":50,"r":"T4","z":2},{"c":51,"r":"T4","z":2},{"c":52,"r":"T4","z":0},{"c":53,"r":"T4","z":2},{"c":54,"r":"T4","z":-1},{"c":55,"r":"T4","z":2},{"c":56,"r":"T4","z":2},{"c":57,"r":"T4","z":-2},{"c":58,"r":"T4","z":2},{"c":59,"r":"T4","z":2},{"c":60,"r":"T4","z":2},{"c":61,"r":"T4","z":0},{"c":62,"r":"T4","z":2},{"c":63,"r":"T4","z":-1},{"c":64,"r":"T4","z":2},{"c":65,"r":"T4","z":2},{"c":66,"r":"T4","z":-2},{"c":67,"r":"T4","z":2},{"c":68,"r":"T4","z":2},
{"c":69,"r":"T4","z":-1},{"c":70,"r":"T4","z":2},{"c":71,"r":"T4","z":-1},{"c":72,"r":"T4","z":0},{"c":73,"r":"T4","z":2},{"c":74,"r":"T4","z":-1},{"c":75,"r":"T4","z":-1},{"c":76,"r":"T4","z":-2},{"c":77,"r":"T4","z":-1},{"c":78,"r":"T4","z":-1},{"c":79,"r":"T4","z":-1},{"c":80,"r":"T4","z":0},{"c":81,"r":"T4","z":-1},{"c":82,"r":"T4","z":-2},{"c":83,"r":"T4","z":-1},{"c":84,"r":"T4","z":-1},{"c":85,"r":"T4","z":-1},{"c":86,"r":"T4","z":-1},{"c":87,"r":"T4","z":-1},{"c":88,"r":"T4","z":-1},{"c":89,"r":"T4","z":-1},{"c":90,"r":"T4","z":-1},{"c":91,"r":"T4","z":-1},{"c":92,"r":"T4","z":-1},{"c":93,"r":"T4","z":-1},{"c":94,"r":"T4","z":-1},{"c":95,"r":"T4","z":0},{"c":96,"r":"T4","z":-1},{"c":97,"r":"T4","z":-1},{"c":98,"r":"T4","z":-1},{"c":99,"r":"T4","z":-2},{"c":100,"r":"T4","z":-1},{"c":101,"r":"T4","z":0},{"c":102,"r":"T4","z":-1},{"c":103,"r":"T4","z":2},{"c":104,"r":"T4","z":-1},{"c":105,"r":"T4","z":-1},{"c":106,"r":"T4","z":-1},{"c":107,"r":"T4","z":-1},{"c":108,"r":"T4","z":-2},{"c":109,"r":"T4","z":-1},{"c":110,"r":"T4","z":-1},{"c":111,"r":"T4","z":-2},{"c":112,"r":"T4","z":-1},{"c":113,"r":"T4","z":-2},{"c":114,"r":"T4","z":-2},{"c":115,"r":"T4","z":-2},{"c":116,"r":"T4","z":-2},{"c":117,"r":"T4","z":-2},{"c":118,"r":"T4","z":-1},
{"c":1,"r":"T5","z":2},{"c":2,"r":"T5","z":0},{"c":3,"r":"T5","z":2},{"c":4,"r":"T5","z":2},{"c":5,"r":"T5","z":0},{"c":6,"r":"T5","z":2},{"c":7,"r":"T5","z":2},{"c":8,"r":"T5","z":0},{"c":9,"r":"T5","z":0},{"c":10,"r":"T5","z":0},{"c":11,"r":"T5","z":2},{"c":12,"r":"T5","z":2},{"c":13,"r":"T5","z":0},{"c":14,"r":"T5","z":0},{"c":15,"r":"T5","z":0},{"c":16,"r":"T5","z":0},{"c":17,"r":"T5","z":2},
{"c":18,"r":"T5","z":2},{"c":19,"r":"T5","z":2},{"c":20,"r":"T5","z":-1},{"c":21,"r":"T5","z":2},{"c":22,"r":"T5","z":2},{"c":23,"r":"T5","z":2},{"c":24,"r":"T5","z":0},{"c":25,"r":"T5","z":2},{"c":26,"r":"T5","z":2},{"c":27,"r":"T5","z":-1},{"c":28,"r":"T5","z":-2},{"c":29,"r":"T5","z":2},{"c":30,"r":"T5","z":2},{"c":31,"r":"T5","z":2},{"c":32,"r":"T5","z":0},{"c":33,"r":"T5","z":2},{"c":34,"r":"T5","z":2},{"c":35,"r":"T5","z":-1},{"c":36,"r":"T5","z":2},{"c":37,"r":"T5","z":2},{"c":38,"r":"T5","z":2},{"c":39,"r":"T5","z":0},{"c":40,"r":"T5","z":2},{"c":41,"r":"T5","z":2},{"c":42,"r":"T5","z":-1},{"c":43,"r":"T5","z":2},{"c":44,"r":"T5","z":2},{"c":45,"r":"T5","z":2},{"c":46,"r":"T5","z":0},{"c":47,"r":"T5","z":2},{"c":48,"r":"T5","z":2},{"c":49,"r":"T5","z":2},{"c":50,"r":"T5","z":-2},{"c":51,"r":"T5","z":2},{"c":52,"r":"T5","z":2},{"c":53,"r":"T5","z":0},{"c":54,"r":"T5","z":2},{"c":55,"r":"T5","z":2},{"c":56,"r":"T5","z":-1},{"c":57,"r":"T5","z":2},{"c":58,"r":"T5","z":2},{"c":59,"r":"T5","z":-1},{"c":60,"r":"T5","z":2},{"c":61,"r":"T5","z":2},{"c":62,"r":"T5","z":2},{"c":63,"r":"T5","z":0},{"c":64,"r":"T5","z":2},{"c":65,"r":"T5","z":2},{"c":66,"r":"T5","z":2},{"c":67,"r":"T5","z":-1},{"c":68,"r":"T5","z":2},
{"c":69,"r":"T5","z":2},{"c":70,"r":"T5","z":2},{"c":71,"r":"T5","z":2},{"c":72,"r":"T5","z":-1},{"c":73,"r":"T5","z":-1},{"c":74,"r":"T5","z":0},{"c":75,"r":"T5","z":-1},{"c":76,"r":"T5","z":-1},{"c":77,"r":"T5","z":-1},{"c":78,"r":"T5","z":-2},{"c":79,"r":"T5","z":-1},{"c":80,"r":"T5","z":-1},{"c":81,"r":"T5","z":-1},{"c":82,"r":"T5","z":0},{"c":83,"r":"T5","z":-1},{"c":84,"r":"T5","z":-2},{"c":85,"r":"T5","z":-1},{"c":86,"r":"T5","z":-1},{"c":87,"r":"T5","z":-1},{"c":88,"r":"T5","z":-1},{"c":89,"r":"T5","z":-1},{"c":90,"r":"T5","z":-1},{"c":91,"r":"T5","z":0},{"c":92,"r":"T5","z":-1},{"c":93,"r":"T5","z":-1},{"c":94,"r":"T5","z":-1},{"c":95,"r":"T5","z":-2},{"c":96,"r":"T5","z":-1},{"c":97,"r":"T5","z":-1},{"c":98,"r":"T5","z":-1},{"c":99,"r":"T5","z":-1},{"c":100,"r":"T5","z":-1},{"c":101,"r":"T5","z":-2},{"c":102,"r":"T5","z":-1},{"c":103,"r":"T5","z":-1},{"c":104,"r":"T5","z":0},{"c":105,"r":"T5","z":-1},{"c":106,"r":"T5","z":-1},{"c":107,"r":"T5","z":-2},{"c":108,"r":"T5","z":-1},{"c":109,"r":"T5","z":-1},{"c":110,"r":"T5","z":-2},{"c":111,"r":"T5","z":-1},{"c":112,"r":"T5","z":-1},{"c":113,"r":"T5","z":-2},{"c":114,"r":"T5","z":-2},{"c":115,"r":"T5","z":-2},{"c":116,"r":"T5","z":-2},{"c":117,"r":"T5","z":-2},{"c":118,"r":"T5","z":2}
]},
"mark":{"type":"rect"},
"encoding":{"color":{"field":"z","type":"quantitative","scale":{"domain":[-2,0,2],"range":["#00ff00","#000000","#ff0000"],"interpolate":"rgb"},"legend":{"title":"Z-score","orient":"right","offset":3,"padding":7,"values":[-2,2],"labelExpr":"datum.value > 0 ? '+1' : '-1'","gradientLength":70,"gradientThickness":16,"gradientStrokeWidth":0,"titleOrient":"left","titleAngle":270,"titleAnchor":"middle","titlePadding":3,"titleFontSize":11.5,"titleFontWeight":"normal","labelFontSize":11.5,"titleColor":"#222","labelColor":"#222"}}}
},
{"data":{"values":[
{"r":"W1","c":1,"c2":17},{"r":"W2","c":1,"c2":17},{"r":"W3","c":1,"c2":17},{"r":"W4","c":1,"c2":17},{"r":"W5","c":1,"c2":17},
{"r":"T1","c":119,"c2":130},{"r":"T2","c":119,"c2":130},{"r":"T3","c":119,"c2":130},{"r":"T4","c":119,"c2":130},{"r":"T5","c":119,"c2":130}
]},
"mark":{"type":"rect","fill":"#ffffff","stroke":"#b5b5b5","strokeWidth":0.8},
"encoding":{"x":{"field":"c","type":"ordinal","bandPosition":0,"axis":{"orient":"top","labels":false,"ticks":false,"domain":false,"grid":false,"title":"Total genus 130: ↑↑17 ↑51 ↓50 ↓↓12","titleAnchor":"start","titleFontSize":11.5,"titleFontWeight":"normal","titlePadding":5}},"x2":{"field":"c2","bandPosition":1}}
},
{"data":{"values":[{"r":"W3","c":9,"t":"n/s"},{"r":"T3","c":125,"t":"n/s"}]},
"mark":{"type":"text","fontSize":11.5,"color":"#222"},
"encoding":{"text":{"field":"t"}}
}
]
},
{
"width":642,"height":189,
"title":{"text":"B","anchor":"start","frame":"group","fontSize":13,"fontWeight":"normal","dx":-39,"dy":8,"offset":0,"color":"#222"},
"data":{"values":[
{"t":"f__S24-7;g__","g":"WT","v":6.32},{"t":"f__S24-7;g__","g":"Tg-APP/PS1","v":1.82},
{"t":"g__Lactobacillus","g":"WT","v":5.58},{"t":"g__Lactobacillus","g":"Tg-APP/PS1","v":3.13},
{"t":"o__Clostridiales;f__;g__","g":"WT","v":4.68},{"t":"o__Clostridiales;f__;g__","g":"Tg-APP/PS1","v":7.05},
{"t":"g__Corynebacterium","g":"WT","v":3.5},{"t":"g__Corynebacterium","g":"Tg-APP/PS1","v":0.95},
{"t":"g__Pseudomonas","g":"WT","v":2.8},{"t":"g__Pseudomonas","g":"Tg-APP/PS1","v":4.15},
{"t":"f__Ruminococcaceae;g__","g":"WT","v":2.46},{"t":"f__Ruminococcaceae;g__","g":"Tg-APP/PS1","v":6.12},
{"t":"o__RF39;f__;g__","g":"WT","v":0.93},{"t":"o__RF39;f__;g__","g":"Tg-APP/PS1","v":0.27},
{"t":"g__Jeotgalicoccus","g":"WT","v":0.85},{"t":"g__Jeotgalicoccus","g":"Tg-APP/PS1","v":8.5},
{"t":"g__Amaricoccus","g":"WT","v":0.43},{"t":"g__Amaricoccus","g":"Tg-APP/PS1","v":0},
{"t":"g__Ralstonia","g":"WT","v":0.22},{"t":"g__Ralstonia","g":"Tg-APP/PS1","v":0},
{"t":"f__Erysipelotrichaceae;g__","g":"WT","v":0.22},{"t":"f__Erysipelotrichaceae;g__","g":"Tg-APP/PS1","v":0.48},
{"t":"g__Leptotrichia","g":"WT","v":0.19},{"t":"g__Leptotrichia","g":"Tg-APP/PS1","v":0},
{"t":"g__Flavobacterium","g":"WT","v":0.17},{"t":"g__Flavobacterium","g":"Tg-APP/PS1","v":0},
{"t":"g__Oligella","g":"WT","v":0.16},{"t":"g__Oligella","g":"Tg-APP/PS1","v":0},
{"t":"g__Lachnospira","g":"WT","v":0.16},{"t":"g__Lachnospira","g":"Tg-APP/PS1","v":0},
{"t":"g__Sporosarcina","g":"WT","v":0.15},{"t":"g__Sporosarcina","g":"Tg-APP/PS1","v":0.5},
{"t":"f__Bifidobacteriaceae;g__","g":"WT","v":0.14},{"t":"f__Bifidobacteriaceae;g__","g":"Tg-APP/PS1","v":0},
{"t":"g__Methyloversatilis","g":"WT","v":0.14},{"t":"g__Methyloversatilis","g":"Tg-APP/PS1","v":0},
{"t":"g__Sphingopyxis","g":"WT","v":0.14},{"t":"g__Sphingopyxis","g":"Tg-APP/PS1","v":0},
{"t":"g__Alloiococcus","g":"WT","v":0.13},{"t":"g__Alloiococcus","g":"Tg-APP/PS1","v":0},
{"t":"g__Blautia","g":"WT","v":0.13},{"t":"g__Blautia","g":"Tg-APP/PS1","v":1.38},
{"t":"c__Gemmatimonadetes;o__;f__;g__","g":"WT","v":0.12},{"t":"c__Gemmatimonadetes;o__;f__;g__","g":"Tg-APP/PS1","v":0},
{"t":"o__Gemmatimonadales;f__;g__","g":"WT","v":0.12},{"t":"o__Gemmatimonadales;f__;g__","g":"Tg-APP/PS1","v":0},
{"t":"f__Oxalobacteraceae;g__","g":"WT","v":0.09},{"t":"f__Oxalobacteraceae;g__","g":"Tg-APP/PS1","v":0.27},
{"t":"f__Methylobacteriaceae;g__","g":"WT","v":0.07},{"t":"f__Methylobacteriaceae;g__","g":"Tg-APP/PS1","v":0.33},
{"t":"g__Parabacteroides","g":"WT","v":0.06},{"t":"g__Parabacteroides","g":"Tg-APP/PS1","v":0.27},
{"t":"o__YS2;f__;g__","g":"WT","v":0.06},{"t":"o__YS2;f__;g__","g":"Tg-APP/PS1","v":0.17},
{"t":"f__Lachnospiraceae;Other","g":"WT","v":0.05},{"t":"f__Lachnospiraceae;Other","g":"Tg-APP/PS1","v":0.47},
{"t":"f__Caulobacteraceae;Other","g":"WT","v":0.05},{"t":"f__Caulobacteraceae;Other","g":"Tg-APP/PS1","v":0.81},
{"t":"f__Enterobacteriaceae;Other","g":"WT","v":0.04},{"t":"f__Enterobacteriaceae;Other","g":"Tg-APP/PS1","v":0.43},
{"t":"g__Neisseria","g":"WT","v":0.03},{"t":"g__Neisseria","g":"Tg-APP/PS1","v":0.17},
{"t":"g__Haemophilus","g":"WT","v":0.02},{"t":"g__Haemophilus","g":"Tg-APP/PS1","v":0.13},
{"t":"g__Aerococcus","g":"WT","v":0.01},{"t":"g__Aerococcus","g":"Tg-APP/PS1","v":10.45},
{"t":"f__Nocardioidaceae;g__","g":"WT","v":0.01},{"t":"f__Nocardioidaceae;g__","g":"Tg-APP/PS1","v":0.12},
{"t":"c__Bacilli;Other;Other;Other","g":"WT","v":0.01},{"t":"c__Bacilli;Other;Other;Other","g":"Tg-APP/PS1","v":0.33},
{"t":"f__Ruminococcaceae;Other","g":"WT","v":0.01},{"t":"f__Ruminococcaceae;Other","g":"Tg-APP/PS1","v":0.24},
{"t":"g__Bacillus","g":"WT","v":0.01},{"t":"g__Bacillus","g":"Tg-APP/PS1","v":0.27},
{"t":"g__Weissella","g":"WT","v":0.01},{"t":"g__Weissella","g":"Tg-APP/PS1","v":0.17},
{"t":"f__[Mogibacteriaceae];g__","g":"WT","v":0},{"t":"f__[Mogibacteriaceae];g__","g":"Tg-APP/PS1","v":0.12},
{"t":"f__TSCOR003-O20;g__","g":"WT","v":0},{"t":"f__TSCOR003-O20;g__","g":"Tg-APP/PS1","v":0.12},
{"t":"g__Odoribacter","g":"WT","v":0},{"t":"g__Odoribacter","g":"Tg-APP/PS1","v":0.12},
{"t":"f__Desulfovibrionaceae;g__","g":"WT","v":0},{"t":"f__Desulfovibrionaceae;g__","g":"Tg-APP/PS1","v":0.12},
{"t":"g__Hymenobacter","g":"WT","v":0},{"t":"g__Hymenobacter","g":"Tg-APP/PS1","v":0.13},
{"t":"g__Megamonas","g":"WT","v":0},{"t":"g__Megamonas","g":"Tg-APP/PS1","v":0.13},
{"t":"f__Leuconostocaceae;g__","g":"WT","v":0},{"t":"f__Leuconostocaceae;g__","g":"Tg-APP/PS1","v":0.13},
{"t":"g__Anaerofustis","g":"WT","v":0},{"t":"g__Anaerofustis","g":"Tg-APP/PS1","v":0.13},
{"t":"f__Sphingobacteriaceae;g__","g":"WT","v":0},{"t":"f__Sphingobacteriaceae;g__","g":"Tg-APP/PS1","v":0.13},
{"t":"g__Kocuria","g":"WT","v":0},{"t":"g__Kocuria","g":"Tg-APP/PS1","v":0.13},
{"t":"f__Bartonellaceae;g__","g":"WT","v":0},{"t":"f__Bartonellaceae;g__","g":"Tg-APP/PS1","v":0.14},
{"t":"c__TM7-3;o__;f__;g__","g":"WT","v":0},{"t":"c__TM7-3;o__;f__;g__","g":"Tg-APP/PS1","v":0.17},
{"t":"g__Deinococcus","g":"WT","v":0},{"t":"g__Deinococcus","g":"Tg-APP/PS1","v":0.19},
{"t":"g__Cloacibacterium","g":"WT","v":0},{"t":"g__Cloacibacterium","g":"Tg-APP/PS1","v":0.23},
{"t":"g__Collinsella","g":"WT","v":0},{"t":"g__Collinsella","g":"Tg-APP/PS1","v":0.37},
{"t":"g__Veillonella","g":"WT","v":0},{"t":"g__Veillonella","g":"Tg-APP/PS1","v":0.39},
{"t":"g__Lactococcus","g":"WT","v":0},{"t":"g__Lactococcus","g":"Tg-APP/PS1","v":0.7}
]},
"mark":{"type":"bar"},
"encoding":{
"x":{"field":"t","type":"nominal","sort":null,"scale":{"paddingInner":0.3,"paddingOuter":0.15},"axis":{"title":null,"labelAngle":-57,"labelFontSize":8.5,"tickBand":"extent","tickSize":4,"labelPadding":1,"labelOverlap":false,"labelLimit":300,"domainColor":"#888","tickColor":"#888"}},
"xOffset":{"field":"g","type":"nominal","sort":["WT","Tg-APP/PS1"],"scale":{"paddingInner":0}},
"y":{"field":"v","type":"quantitative","scale":{"domain":[0,11]},"axis":{"values":[0,1,2,3,4,5,6,7,8,9,10,11],"title":"Relative abundance (%)","titleFontSize":11,"titleFontWeight":"normal","titlePadding":4,"labelFontSize":11.5,"labelPadding":3,"tickSize":4,"gridDash":[2,2],"gridColor":"#c8c8c8","domainColor":"#888","tickColor":"#888"}},
"color":{"field":"g","type":"nominal","sort":["WT","Tg-APP/PS1"],"scale":{"domain":["WT","Tg-APP/PS1"],"range":["#2e63d8","#f26a6a"]},"legend":{"title":null,"orient":"top-right","offset":14,"symbolType":"square","symbolSize":45,"symbolStrokeWidth":0,"labelFontSize":10.5,"rowPadding":3,"labelColor":"#222"}}
}
}
]
}
